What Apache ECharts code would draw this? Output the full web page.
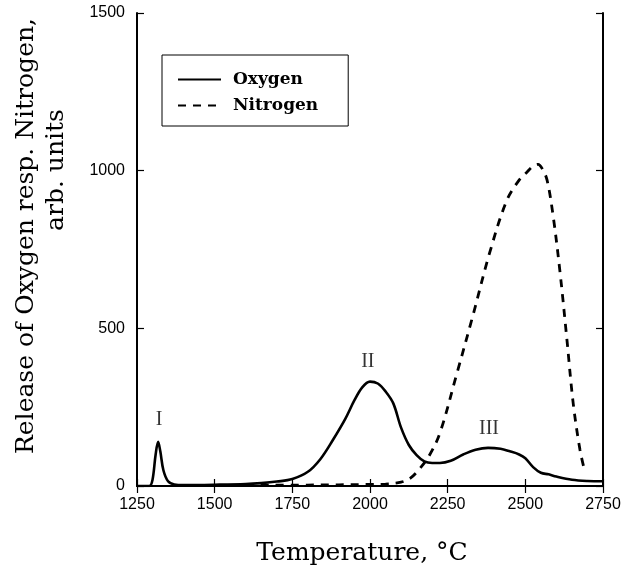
<!DOCTYPE html>
<html>
<head>
<meta charset="utf-8">
<script src="https://cdn.jsdelivr.net/npm/echarts@6/dist/echarts.min.js"></script>
<style>
  html, body { margin: 0; padding: 0; background: #fff; }
  #chart { width: 629px; height: 572px; }
</style>
</head>
<body>
<div id="chart"></div>
<script>
// Oxygen release curve (temperature in °C, arbitrary units)
const oxygenT = [1250, 1290, 1300, 1310, 1318, 1325, 1335, 1350, 1370, 1400, 1500, 1600, 1650, 1700, 1750, 1800, 1840, 1880, 1920, 1950, 1975, 2000, 2025, 2050, 2075, 2100, 2125, 2150, 2175, 2200, 2225, 2260, 2300, 2340, 2380, 2420, 2450, 2480, 2500, 2525, 2550, 2575, 2600, 2650, 2700, 2750];
const oxygenV = [0, 0, 20, 100, 140, 110, 50, 15, 5, 3, 4, 6, 9, 14, 22, 45, 85, 145, 212, 272, 313, 331, 325, 300, 262, 185, 130, 98, 78, 73, 73, 80, 100, 115, 121, 118, 110, 100, 88, 60, 42, 37, 30, 20, 16, 15];

// Nitrogen release curve
const nitrogenT = [1600, 1800, 2000, 2050, 2100, 2130, 2160, 2190, 2225, 2280, 2330, 2385, 2440, 2480, 2505, 2525, 2541, 2555, 2570, 2590, 2612, 2634, 2654, 2676, 2692];
const nitrogenV = [2, 3, 5, 6, 12, 25, 55, 95, 168, 358, 536, 739, 905, 970, 995, 1015, 1020, 1005, 970, 853, 675, 463, 263, 114, 44];

// Peak labels and their anchor points
const peakNames = ['I', 'II', 'III'];
const peakT = [1321, 1993, 2383];
const peakV = [209, 393, 181];

// Axis settings
const xTicks = [1250, 1500, 1750, 2000, 2250, 2500, 2750];
const yTicks = [0, 500, 1000, 1500];

const zip = (a, b) => a.map((v, i) => [v, b[i]]);

const chart = echarts.init(document.getElementById('chart'));

const frameLine = { show: true, lineStyle: { color: '#000', width: 2 } };
const inTicks = (len) => ({ show: true, inside: true, length: len, lineStyle: { color: '#000', width: 1.2 } });
const plain = (v) => String(v);

chart.setOption({
  animation: false,
  backgroundColor: '#fff',
  grid: { left: 137, right: 26, top: 13, bottom: 86 },
  xAxis: [
    {
      type: 'value', min: xTicks[0], max: xTicks[xTicks.length - 1], interval: 250,
      axisLine: frameLine, axisTick: inTicks(7), splitLine: { show: false },
      axisLabel: { color: '#000', fontFamily: 'Liberation Sans', fontSize: 16, margin: 11, formatter: plain }
    },
    {
      type: 'value', position: 'top', min: xTicks[0], max: xTicks[xTicks.length - 1], interval: 250,
      axisLine: frameLine, axisTick: inTicks(7), axisLabel: { show: false }, splitLine: { show: false }
    }
  ],
  yAxis: [
    {
      type: 'value', min: yTicks[0], max: yTicks[yTicks.length - 1], interval: 500,
      axisLine: frameLine, axisTick: inTicks(7), splitLine: { show: false },
      axisLabel: { color: '#000', fontFamily: 'Liberation Sans', fontSize: 16, margin: 12, formatter: plain }
    },
    {
      type: 'value', position: 'right', min: yTicks[0], max: yTicks[yTicks.length - 1], interval: 500,
      axisLine: frameLine, axisTick: inTicks(7), axisLabel: { show: false }, splitLine: { show: false }
    }
  ],
  legend: {
    left: 162, top: 55, orient: 'vertical',
    padding: [16, 30, 12, 15], itemGap: 9, itemWidth: 43, itemHeight: 15,
    borderColor: '#000', borderWidth: 1,
    itemStyle: { opacity: 0 },
    textStyle: { color: '#000', fontFamily: 'DejaVu Serif', fontWeight: 'bold', fontSize: 17, padding: [0, 0, 0, 7] },
    data: ['Oxygen', 'Nitrogen']
  },
  series: [
    {
      name: 'Oxygen', type: 'line', data: zip(oxygenT, oxygenV),
      smooth: 0.35, symbol: 'none', lineStyle: { color: '#000', width: 2.6 }, itemStyle: { color: '#000' }
    },
    {
      name: 'Nitrogen', type: 'line', data: zip(nitrogenT, nitrogenV),
      smooth: 0.35, symbol: 'none', lineStyle: { color: '#000', width: 2.8, type: [8, 7] }, itemStyle: { color: '#000' }
    },
    {
      name: 'peaks', type: 'scatter', symbolSize: 0, silent: true,
      data: peakNames.map((n, i) => ({ value: [peakT[i], peakV[i]], name: n })),
      label: {
        show: true, position: 'inside', formatter: (p) => p.name,
        color: '#000', fontFamily: 'Liberation Serif', fontSize: 20
      }
    }
  ],
  graphic: [
    {
      type: 'text', x: 362, y: 553,
      style: { text: 'Temperature, °C', fill: '#000', font: '25px "DejaVu Serif"', textAlign: 'center', textVerticalAlign: 'middle' }
    },
    {
      type: 'text', x: 26, y: 236, rotation: Math.PI / 2,
      style: { text: 'Release of Oxygen resp. Nitrogen,', fill: '#000', font: '25px "DejaVu Serif"', textAlign: 'center', textVerticalAlign: 'middle' }
    },
    {
      type: 'text', x: 56, y: 170, rotation: Math.PI / 2,
      style: { text: 'arb. units', fill: '#000', font: '25px "DejaVu Serif"', textAlign: 'center', textVerticalAlign: 'middle' }
    }
  ]
});
</script>
</body>
</html>
